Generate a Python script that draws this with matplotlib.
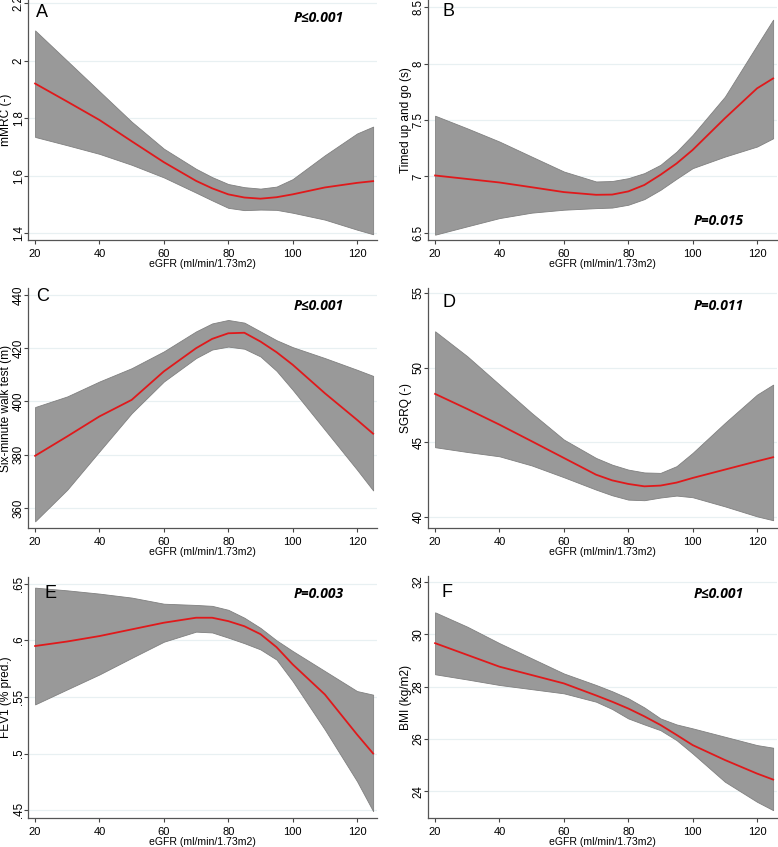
import matplotlib
matplotlib.use("Agg")
import matplotlib.pyplot as plt

W, H = 778, 847

egfr = [20, 30, 40, 50, 60, 70, 75, 80, 85, 90, 95, 100, 110, 120, 125]

# Panel A: mMRC
a_fit = [1.921, 1.858, 1.794, 1.720, 1.647, 1.582, 1.556, 1.535, 1.524, 1.520, 1.525, 1.535, 1.559, 1.575, 1.581]
a_up = [2.106, 2.000, 1.894, 1.788, 1.694, 1.624, 1.595, 1.571, 1.560, 1.555, 1.562, 1.588, 1.671, 1.747, 1.771]
a_lo = [1.735, 1.706, 1.676, 1.638, 1.594, 1.541, 1.514, 1.488, 1.480, 1.482, 1.481, 1.471, 1.447, 1.412, 1.396]

# Panel B: Timed up and go
b_fit = [7.009, 6.978, 6.947, 6.905, 6.862, 6.838, 6.840, 6.868, 6.925, 7.015, 7.115, 7.235, 7.515, 7.780, 7.868]
b_up = [7.538, 7.426, 7.309, 7.176, 7.044, 6.956, 6.960, 6.985, 7.030, 7.103, 7.220, 7.368, 7.706, 8.162, 8.388]
b_lo = [6.485, 6.559, 6.632, 6.680, 6.706, 6.720, 6.725, 6.750, 6.800, 6.882, 6.980, 7.074, 7.176, 7.265, 7.338]

# Panel C: Six-minute walk test
c_fit = [379.6, 386.9, 394.4, 400.6, 411.3, 420.0, 423.5, 425.6, 425.8, 422.5, 418.5, 413.8, 403.1, 393.1, 387.9]
c_up = [397.9, 401.9, 407.5, 412.5, 418.8, 426.3, 429.3, 430.6, 429.6, 426.3, 423.0, 420.4, 416.3, 411.9, 409.6]
c_lo = [355.0, 366.9, 381.3, 395.6, 407.5, 416.3, 419.5, 420.6, 419.8, 416.9, 411.5, 404.4, 389.4, 374.4, 366.6]

# Panel D: SGRQ
d_fit = [48.24, 47.23, 46.18, 45.07, 43.95, 42.83, 42.45, 42.21, 42.05, 42.10, 42.30, 42.61, 43.17, 43.73, 44.00]
d_up = [52.43, 50.76, 48.86, 46.96, 45.18, 43.95, 43.50, 43.17, 42.98, 42.95, 43.40, 44.29, 46.29, 48.19, 48.86]
d_lo = [44.67, 44.35, 44.06, 43.45, 42.66, 41.83, 41.45, 41.16, 41.12, 41.30, 41.43, 41.32, 40.71, 40.04, 39.78]

# Panel E: FEV1
e_fit = [0.595, 0.599, 0.6038, 0.6097, 0.6156, 0.620, 0.620, 0.617, 0.6125, 0.6055, 0.594, 0.5788, 0.5522, 0.5168, 0.500]
e_up = [0.6466, 0.6442, 0.6413, 0.6378, 0.6324, 0.6313, 0.6305, 0.627, 0.620, 0.611, 0.600, 0.5906, 0.5729, 0.5552, 0.552]
e_lo = [0.5434, 0.5567, 0.5699, 0.5845, 0.5988, 0.6077, 0.6070, 0.6024, 0.5975, 0.592, 0.583, 0.564, 0.5212, 0.4755, 0.449]

# Panel F: BMI
f_fit = [29.66, 29.21, 28.76, 28.44, 28.12, 27.66, 27.42, 27.16, 26.86, 26.53, 26.15, 25.76, 25.19, 24.67, 24.44]
f_up = [30.84, 30.29, 29.66, 29.08, 28.50, 28.06, 27.82, 27.55, 27.20, 26.78, 26.55, 26.40, 26.08, 25.76, 25.66]
f_lo = [28.47, 28.27, 28.06, 27.90, 27.74, 27.42, 27.14, 26.78, 26.55, 26.33, 25.95, 25.44, 24.36, 23.59, 23.27]

xlabel = "eGFR (ml/min/1.73m2)"
xticks = [20, 40, 60, 80, 100, 120]

panels = [
    dict(letter="A", fit=a_fit, up=a_up, lo=a_lo, ylabel="mMRC (-)",
         yticks=[1.4, 1.6, 1.8, 2.0, 2.2], yticklabels=["1.4", "1.6", "1.8", "2", "2.2"],
         ylim=(1.376, 2.212), p="P≤0.001", ppos="top", rect=(28, 0, 377, 240),
         lpos=(36, 4)),
    dict(letter="B", fit=b_fit, up=b_up, lo=b_lo, ylabel="Timed up and go (s)",
         yticks=[6.5, 7, 7.5, 8, 8.5], yticklabels=["6.5", "7", "7.5", "8", "8.5"],
         ylim=(6.438, 8.562), p="P=0.015", ppos="bottom", rect=(428, 0, 777, 240),
         lpos=(443, 3)),
    dict(letter="C", fit=c_fit, up=c_up, lo=c_lo, ylabel="Six-minute walk test (m)",
         yticks=[360, 380, 400, 420, 440], yticklabels=["360", "380", "400", "420", "440"],
         ylim=(352.5, 442.6), p="P≤0.001", ppos="top", rect=(28, 288, 377, 528),
         lpos=(36, 288)),
    dict(letter="D", fit=d_fit, up=d_up, lo=d_lo, ylabel="SGRQ (-)",
         yticks=[40, 45, 50, 55], yticklabels=["40", "45", "50", "55"],
         ylim=(39.26, 55.33), p="P=0.011", ppos="top", rect=(428, 288, 777, 528),
         lpos=(443, 294)),
    dict(letter="E", fit=e_fit, up=e_up, lo=e_lo, ylabel="FEV1 (% pred.)",
         yticks=[0.45, 0.5, 0.55, 0.6, 0.65], yticklabels=[".45", ".5", ".55", ".6", ".65"],
         ylim=(0.443, 0.656), p="P=0.003", ppos="top", rect=(28, 577, 377, 818),
         lpos=(45, 585)),
    dict(letter="F", fit=f_fit, up=f_up, lo=f_lo, ylabel="BMI (kg/m2)",
         yticks=[24, 26, 28, 30, 32], yticklabels=["24", "26", "28", "30", "32"],
         ylim=(22.97, 32.23), p="P≤0.001", ppos="top", rect=(428, 576, 777, 818),
         lpos=(442, 584)),
]

fig = plt.figure(figsize=(W / 100, H / 100), dpi=100)
fig.patch.set_facecolor("white")

def px_rect(l, t, r, b):
    return [l / W, 1 - b / H, (r - l) / W, (b - t) / H]

for p in panels:
    l, t, r, b = p["rect"]
    wpx, hpx = r - l, b - t
    ax = fig.add_axes(px_rect(l, t, r, b))
    ax.set_xlim(17.8, 126.2)
    ax.set_ylim(*p["ylim"])
    for y in p["yticks"]:
        ax.axhline(y, color="#e8f0f2", lw=0.9, zorder=0)
    ax.fill_between(egfr, p["lo"], p["up"], facecolor="#999999", edgecolor="#808080",
                    lw=0.6, zorder=2)
    ax.plot(egfr, p["fit"], color="#e0191b", lw=1.3, zorder=3)
    ax.set_xticks(xticks)
    ax.set_xticklabels([str(x) for x in xticks], fontsize=8, family="Liberation Sans")
    ax.set_yticks(p["yticks"])
    ax.set_yticklabels(p["yticklabels"], fontsize=8.3, family="Liberation Sans",
                       rotation=90, va="center", ha="center")
    ax.tick_params(axis="x", direction="out", length=2.6, width=0.8, color="#444444", pad=4)
    ax.tick_params(axis="y", direction="out", length=3, width=0.8, color="#444444", pad=3.6)
    for s in ["top", "right"]:
        ax.spines[s].set_visible(False)
    for s in ["left", "bottom"]:
        ax.spines[s].set_color("#555555")
        ax.spines[s].set_linewidth(0.9)
    ax.set_xlabel(xlabel, fontsize=7.6, family="Liberation Sans")
    ax.xaxis.set_label_coords(0.5, -19.0 / hpx)
    ax.set_ylabel(p["ylabel"], fontsize=8.6, family="Liberation Sans")
    ax.yaxis.set_label_coords(-16.0 / wpx, 0.5)
    lx, ly = p["lpos"]
    fig.text(lx / W, 1 - ly / H, p["letter"], fontsize=13, family="Liberation Sans",
             va="top", ha="left")
    yp = 0.925 if p["ppos"] == "top" else 0.08
    if p["letter"] == "E":
        yp = 0.93
    ax.text(0.905, yp, p["p"], transform=ax.transAxes, fontsize=10,
            family="Open Sans", fontweight="bold", style="italic", ha="right", va="center")

fig.savefig("out.png", dpi=100, facecolor="white")
